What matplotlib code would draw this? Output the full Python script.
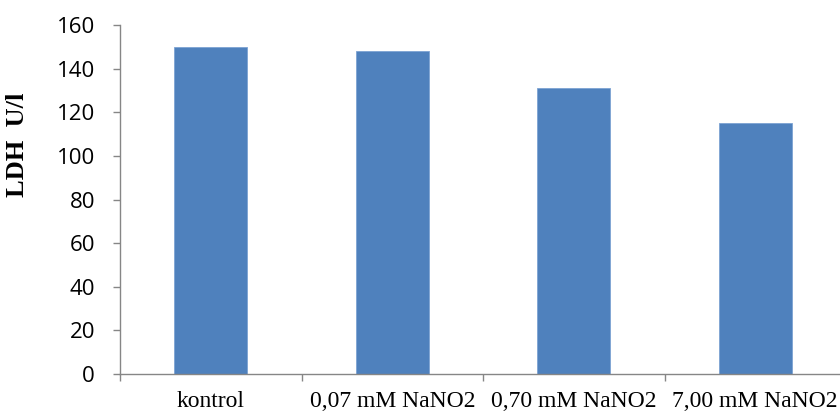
import numpy as np
import matplotlib.pyplot as plt

categories = ['kontrol', '0,07 mM NaNO2', '0,70 mM NaNO2', '7,00 mM NaNO2']
ldh_values = [150, 148, 131, 115]
y_ticks = [0, 20, 40, 60, 80, 100, 120, 140, 160]

axis_gray = '#868686'
bar_blue = '#4F81BD'

fig = plt.figure(figsize=(8.4, 4.12), dpi=100)
# axis runs past the right edge of the picture, like the original
ax = fig.add_axes([120 / 840, 1 - 374 / 412, 726 / 840, 349 / 412])

x = np.arange(len(categories))
ax.bar(x, ldh_values, width=0.40, color=bar_blue, edgecolor='#7da3d3', linewidth=0.6)

ax.set_xlim(-0.5, len(categories) - 0.5)
ax.set_ylim(0, 160)
ax.set_yticks(y_ticks)
ax.set_yticklabels([str(v) for v in y_ticks], family='Open Sans', fontsize=16)

ax.set_xticks(x)
ax.set_xticklabels(categories, family='Liberation Serif', fontsize=17)
ax.set_xticks(np.arange(-0.5, len(categories), 1.0), minor=True)
ax.tick_params(axis='x', which='major', length=0, pad=12)
ax.tick_params(axis='x', which='minor', length=5, width=1, color=axis_gray)
ax.tick_params(axis='y', length=5, width=1, color=axis_gray, pad=13)

for side in ['top', 'right']:
    ax.spines[side].set_visible(False)
for side in ['left', 'bottom']:
    ax.spines[side].set_color(axis_gray)
    ax.spines[side].set_linewidth(1)

fig.text(18 / 840, 1 - 145 / 412, 'LDH  U/l', rotation=90, ha='center', va='center',
         family='Liberation Serif', fontweight='bold', fontsize=19)

fig.savefig('out.png', dpi=100)
